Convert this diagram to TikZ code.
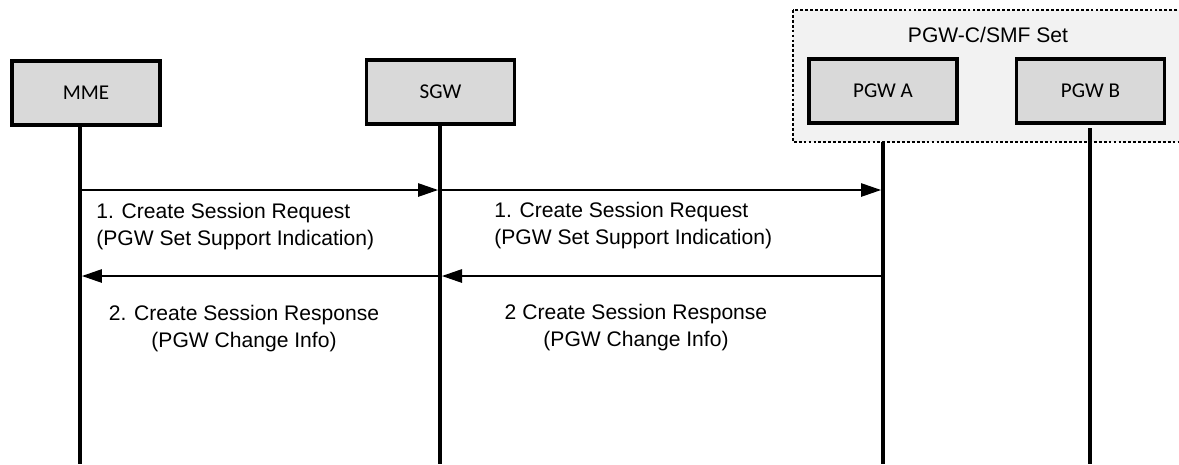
\documentclass[tikz,border=0pt]{standalone}
\usepackage{fontspec}
\setmainfont{Liberation Sans}
\newfontfamily\boxfont{Carlito}
\usetikzlibrary{arrows.meta}
\definecolor{boxgray}{HTML}{D9D9D9}
\definecolor{setgray}{HTML}{F2F2F2}
\tikzset{
  entity/.style={draw,line width=2pt,fill=boxgray,minimum width=2.96cm,
    minimum height=1.28cm,inner sep=0pt,font=\boxfont\fontsize{12}{14}\selectfont},
  lifeline/.style={line width=2pt},
  msg/.style={line width=0.7pt,-{Triangle[length=0.4cm,width=0.27cm]},shorten >=0.04cm},
  msgtext/.style={inner sep=0pt,font=\fontsize{12}{15.4}\selectfont}
}
\begin{document}
\begin{tikzpicture}[x=0.02cm,y=-0.02cm]
    \clip (0,0) rectangle (1179,464);
    % PGW set area
    \draw[fill=setgray,line width=0.7pt,dash pattern=on 1.6pt off 1.2pt]
         (793,10) rectangle (1190,142);
    \node[msgtext] (setlabel) at (988,35) {PGW-C/SMF Set};
    % Entities
    \node[entity] (mme) at (86,93) {MME};
    \node[entity] (sgw) at (440.5,92) {SGW};
    \node[entity] (pgwa) at (883,91) {PGW A};
    \node[entity] (pgwb) at (1090.5,91) {PGW B};
    % Lifelines
    \coordinate (mmetop) at (80,127);
    \coordinate (mmeend) at (80,464);
    \coordinate (sgwtop) at (440,125);
    \coordinate (sgwend) at (440,464);
    \coordinate (pgwatop) at (883,142);
    \coordinate (pgwaend) at (883,464);
    \coordinate (pgwbtop) at (1090,128);
    \coordinate (pgwbend) at (1090,464);
    \draw[lifeline] (mmetop) -- (mmeend);
    \draw[lifeline] (sgwtop) -- (sgwend);
    \draw[lifeline] (pgwatop) -- (pgwaend);
    \draw[lifeline] (pgwbtop) -- (pgwbend);
    % Messages
    \coordinate (mmereq) at (80,190);
    \coordinate (sgwreq) at (440,190);
    \coordinate (pgwareq) at (883,190);
    \coordinate (mmersp) at (80,276);
    \coordinate (sgwrsp) at (440,276);
    \coordinate (pgwarsp) at (883,276);
    \draw[msg] (mmereq) -- (sgwreq);
    \draw[msg] (sgwreq) -- (pgwareq);
    \draw[msg] (pgwarsp) -- (sgwrsp);
    \draw[msg] (sgwrsp) -- (mmersp);
    \node[msgtext,anchor=west,align=left] (req1) at (96,227)
         {1. Create Session Request\\(PGW Set Support Indication)};
    \node[msgtext,anchor=west,align=left] (req2) at (494,226)
         {1. Create Session Request\\(PGW Set Support Indication)};
    \node[msgtext,align=center] (rsp1) at (244,329)
         {2. Create Session Response\\(PGW Change Info)};
    \node[msgtext,align=center] (rsp2) at (636,328)
         {2 Create Session Response\\(PGW Change Info)};
  \end{tikzpicture}
\end{document}
